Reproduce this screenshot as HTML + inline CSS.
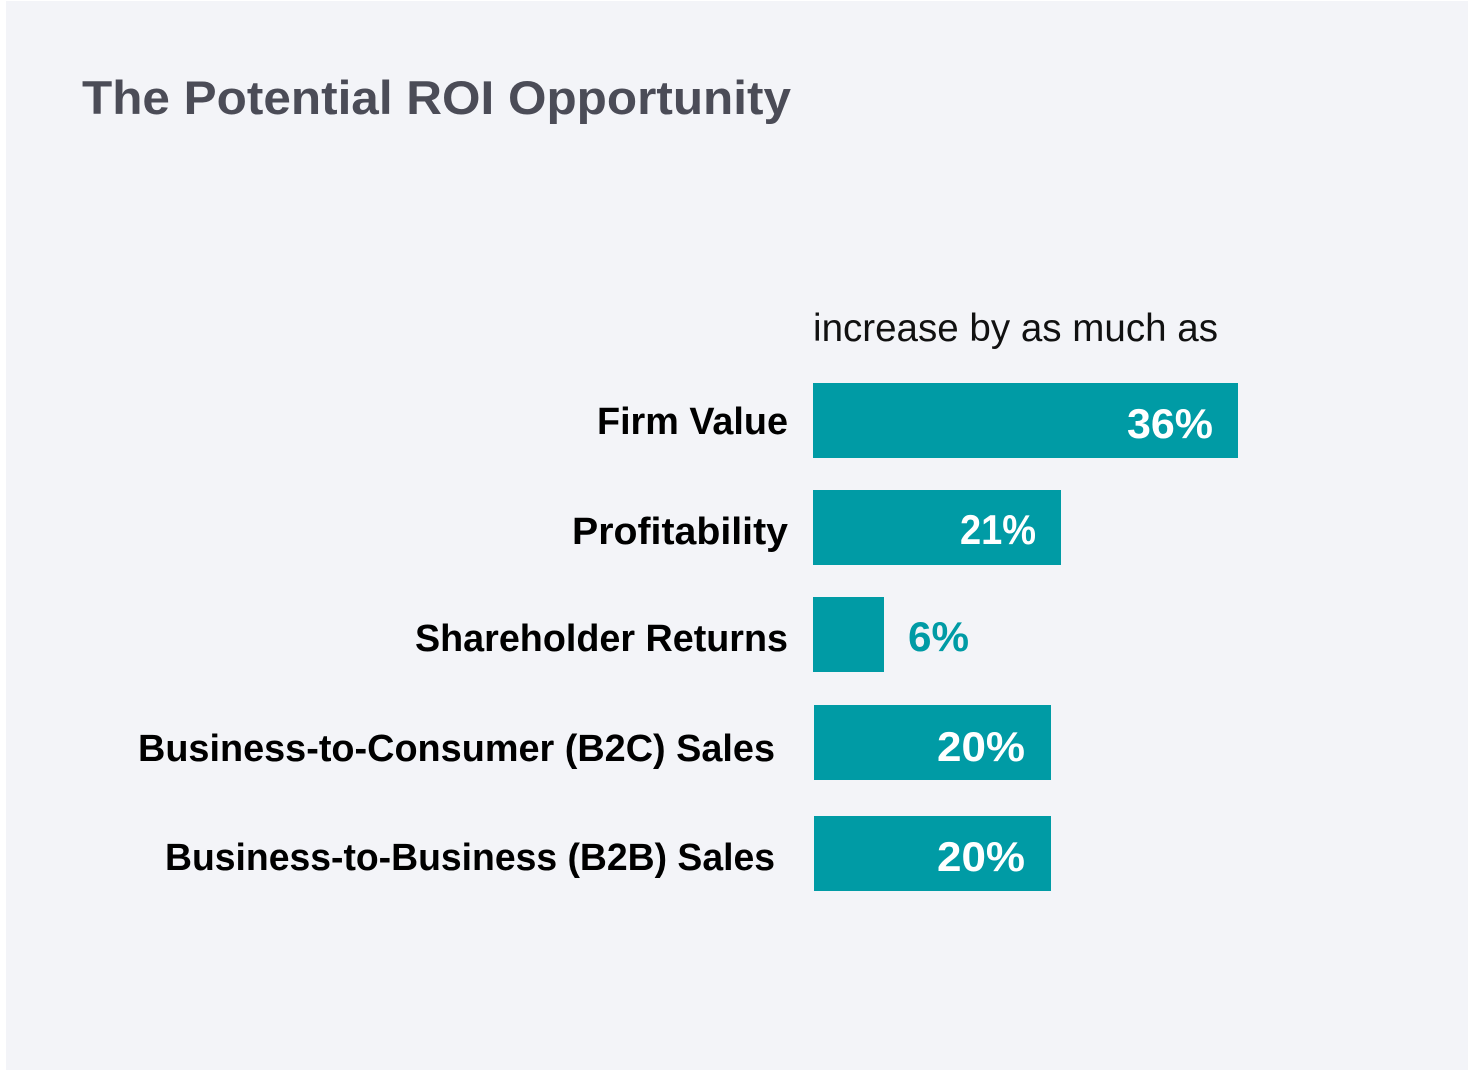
<!DOCTYPE html>
<html>
<head>
<meta charset="utf-8">
<style>
  html, body { margin: 0; padding: 0; background: #ffffff; }
  svg { display: block; }
  text { font-family: "Liberation Sans", "DejaVu Sans", sans-serif; }
</style>
</head>
<body>
<svg width="1472" height="1072" viewBox="0 0 1472 1072" xmlns="http://www.w3.org/2000/svg">
  <rect x="0" y="0" width="1472" height="1072" fill="#ffffff"/>
  <rect x="6" y="1" width="1462" height="1069" fill="#f3f4f8"/>

  <!-- Title -->
  <text x="82" y="114" font-size="47" font-weight="bold" fill="#4b4c57" textLength="709" lengthAdjust="spacingAndGlyphs">The Potential ROI Opportunity</text>

  <!-- Subtitle -->
  <text x="813" y="341" font-size="39" fill="#111111" textLength="405" lengthAdjust="spacingAndGlyphs">increase by as much as</text>

  <!-- Bars -->
  <rect x="813" y="383" width="425" height="75" fill="#009ba5"/>
  <rect x="813" y="490" width="248" height="75" fill="#009ba5"/>
  <rect x="813" y="597" width="71" height="75" fill="#009ba5"/>
  <rect x="814" y="705" width="237" height="75" fill="#009ba5"/>
  <rect x="814" y="816" width="237" height="75" fill="#009ba5"/>

  <!-- Category labels -->
  <text x="597" y="434" font-size="38" font-weight="bold" fill="#000000" textLength="191" lengthAdjust="spacingAndGlyphs">Firm Value</text>
  <text x="572" y="544" font-size="38" font-weight="bold" fill="#000000" textLength="216" lengthAdjust="spacingAndGlyphs">Profitability</text>
  <text x="415" y="651" font-size="38" font-weight="bold" fill="#000000" textLength="373" lengthAdjust="spacingAndGlyphs">Shareholder Returns</text>
  <text x="138" y="761" font-size="38" font-weight="bold" fill="#000000" textLength="637" lengthAdjust="spacingAndGlyphs">Business-to-Consumer (B2C) Sales</text>
  <text x="165" y="870" font-size="38" font-weight="bold" fill="#000000" textLength="610" lengthAdjust="spacingAndGlyphs">Business-to-Business (B2B) Sales</text>

  <!-- Values -->
  <text x="1127" y="438" font-size="42" font-weight="bold" fill="#ffffff" textLength="86" lengthAdjust="spacingAndGlyphs">36%</text>
  <text x="960" y="544" font-size="42" font-weight="bold" fill="#ffffff" textLength="76" lengthAdjust="spacingAndGlyphs">21%</text>
  <text x="908" y="651" font-size="42" font-weight="bold" fill="#009ba5" textLength="61" lengthAdjust="spacingAndGlyphs">6%</text>
  <text x="937" y="761" font-size="42" font-weight="bold" fill="#ffffff" textLength="88" lengthAdjust="spacingAndGlyphs">20%</text>
  <text x="937" y="871" font-size="42" font-weight="bold" fill="#ffffff" textLength="88" lengthAdjust="spacingAndGlyphs">20%</text>
</svg>
</body>
</html>
